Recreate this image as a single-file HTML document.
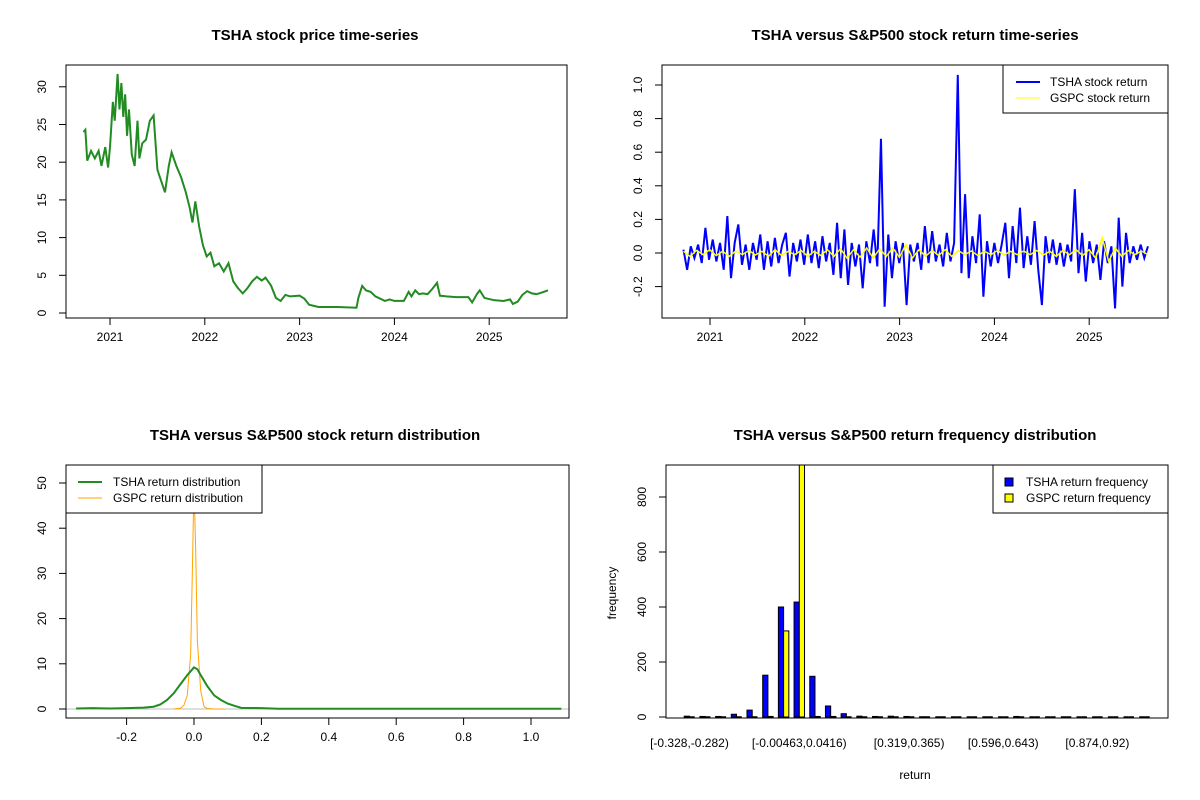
<!DOCTYPE html>
<html><head><meta charset="utf-8"><style>
body{margin:0;background:#fff}
svg{display:block;font-family:"Liberation Sans",Arial,sans-serif}
text{fill:#000}
.t{font-size:15px;font-weight:bold}
.k{font-size:12px}
</style></head><body>
<svg id="s" width="1200" height="800" viewBox="0 0 1200 800">
<rect width="1200" height="800" fill="#fff"/>
</svg>
<script>
// ---- data ----
const yearTicks = [2021, 2022, 2023, 2024, 2025];
const priceStart = 2020.72, priceEnd = 2025.62;
const priceYears = [2020.72,2020.74,2020.76,2020.80,2020.84,2020.88,2020.91,2020.95,2020.98,2021.0,2021.03,2021.05,2021.08,2021.10,2021.12,2021.14,2021.16,2021.18,2021.2,2021.23,2021.26,2021.29,2021.31,2021.34,2021.38,2021.42,2021.46,2021.5,2021.54,2021.58,2021.62,2021.65,2021.7,2021.75,2021.8,2021.84,2021.87,2021.9,2021.94,2021.98,2022.02,2022.06,2022.1,2022.15,2022.2,2022.25,2022.3,2022.35,2022.4,2022.45,2022.5,2022.55,2022.6,2022.64,2022.7,2022.75,2022.8,2022.85,2022.9,2023.0,2023.05,2023.1,2023.2,2023.4,2023.6,2023.62,2023.66,2023.7,2023.75,2023.8,2023.85,2023.9,2023.95,2024.0,2024.1,2024.15,2024.18,2024.22,2024.26,2024.3,2024.35,2024.4,2024.45,2024.48,2024.55,2024.65,2024.78,2024.82,2024.87,2024.9,2024.95,2025.05,2025.15,2025.22,2025.25,2025.3,2025.35,2025.4,2025.45,2025.5,2025.55,2025.62];
const tshaPrice = [24,24.3,20.2,21.5,20.5,21.5,19.5,22,19.3,22,28,25.5,31.7,27,30.5,26,29,23.5,27,21,19.5,25.5,20.5,22.5,23,25.5,26.2,19,17.5,16,19.5,21.3,19.5,18,16,14,12,14.8,11.5,9,7.5,8,6.2,6.6,5.5,6.6,4.2,3.3,2.6,3.3,4.2,4.8,4.3,4.7,3.6,2,1.6,2.4,2.2,2.3,1.9,1.1,0.8,0.8,0.7,2,3.6,3,2.8,2.2,1.9,1.6,1.8,1.6,1.6,2.8,2.2,3,2.5,2.6,2.5,3.2,4,2.3,2.2,2.1,2.1,1.4,2.5,3,2,1.7,1.6,1.8,1.2,1.5,2.4,2.9,2.6,2.5,2.7,3];
const priceTicks = [0,5,10,15,20,25,30];
const tshaRet = [0.02,-0.1,0.04,-0.03,0.05,-0.06,0.15,-0.04,0.08,-0.05,0.06,-0.1,0.22,-0.15,0.06,0.17,-0.07,0.05,-0.1,0.06,-0.04,0.11,-0.1,0.07,-0.08,0.09,-0.06,0.05,0.12,-0.14,0.06,-0.05,0.08,-0.07,0.11,-0.06,0.07,-0.09,0.1,-0.05,0.06,-0.13,0.18,-0.15,0.14,-0.19,0.06,-0.08,0.05,-0.21,0.07,-0.06,0.14,-0.08,0.68,-0.32,0.11,-0.15,0.07,-0.06,0.06,-0.31,0.05,-0.05,0.06,-0.1,0.16,-0.06,0.13,-0.05,0.05,-0.08,0.12,-0.05,0.06,1.06,-0.12,0.35,-0.15,0.1,-0.06,0.23,-0.26,0.07,-0.08,0.06,-0.06,0.05,0.18,-0.15,0.16,-0.06,0.27,-0.09,0.1,-0.07,0.19,-0.1,-0.31,0.1,-0.06,0.08,-0.07,0.06,-0.08,0.05,-0.05,0.38,-0.12,0.12,-0.17,0.07,-0.06,0.05,-0.16,0.07,-0.06,0.04,-0.33,0.21,-0.2,0.12,-0.06,0.04,-0.04,0.05,-0.03,0.04];
const gspcRet = [0.01,-0.02,0.015,-0.01,0.02,-0.015,0.01,-0.02,0.012,-0.01,0.015,-0.012,0.01,-0.02,0.02,-0.015,0.01,-0.01,0.015,-0.02,0.01,-0.015,0.02,-0.02,0.025,-0.03,0.02,-0.025,0.03,-0.03,0.025,-0.02,0.03,-0.025,0.05,-0.03,0.02,-0.02,0.015,-0.015,0.02,-0.02,0.015,-0.01,0.012,-0.015,0.01,-0.01,0.015,-0.012,0.01,-0.01,0.012,-0.01,0.015,-0.012,0.01,-0.02,0.015,-0.01,0.02,-0.015,0.02,-0.03,0.09,-0.05,0.03,-0.02,0.015,-0.01,0.012,-0.01];
const retTicks = [-0.2,0,0.2,0.4,0.6,0.8,1.0];
const retTickLabels = ["-0.2","0.0","0.2","0.4","0.6","0.8","1.0"];
const densTshaX = [-0.35,-0.3,-0.25,-0.2,-0.15,-0.12,-0.1,-0.08,-0.06,-0.04,-0.02,0,0.01,0.02,0.04,0.06,0.08,0.1,0.12,0.14,0.2,0.25,0.3,0.5,0.8,1.09];
const densTshaY = [0.1,0.2,0.1,0.2,0.3,0.5,1,2,3.5,5.5,7.5,9.2,8.8,7.5,5,3,2,1.2,0.7,0.25,0.2,0.05,0.05,0.05,0.05,0.05];
const densGspcX = [-0.06,-0.04,-0.03,-0.02,-0.01,-0.005,0,0.005,0.01,0.02,0.03,0.04,0.06,0.09];
const densGspcY = [0,0.2,0.8,3,12,30,50,35,15,4,0.5,0.1,0,0];
const densXTicks = [-0.2,0,0.2,0.4,0.6,0.8,1.0];
const densXLabels = ["-0.2","0.0","0.2","0.4","0.6","0.8","1.0"];
const densYTicks = [0,10,20,30,40,50];
const histTsha = [3,2,2,10,25,152,400,418,148,40,12,3,2,3,2,1,0,0,0,0,0,2,0,0,0,0,0,0,0,0];
const histGspc = [0,0,0,0,0,2,313,1100,2,2,0,0,0,0,0,0,0,0,0,0,0,0,0,0,0,0,0,0,0,0];
const histLabelIdx = [0,7,14,20,26];
const histLabels = ["[-0.328,-0.282)","[-0.00463,0.0416)","[0.319,0.365)","[0.596,0.643)","[0.874,0.92)"];
const histYTicks = [0,200,400,600,800];

// ---- helpers ----
const NS="http://www.w3.org/2000/svg", svg=document.getElementById('s');
function el(tag,at,parent){const e=document.createElementNS(NS,tag);for(const k in at)e.setAttribute(k,at[k]);(parent||svg).appendChild(e);return e;}
function txt(x,y,s,cls,anchor,rot,parent){const e=el('text',{x:x,y:y,class:cls,'text-anchor':anchor||'middle'},parent);if(rot)e.setAttribute('transform','rotate(-90 '+x+' '+y+')');e.textContent=s;return e;}
function grp(name){const g=el('g',{});return g;}
function box(g,x0,y0,x1,y1){const r=el('rect',{x:x0,y:y0,width:x1-x0,height:y1-y0,fill:'none',stroke:'#000','stroke-width':1},g);}
function xAxis(g,vals,labels,sx,y){const a=grp('x-axis');g.appendChild(a);el('line',{x1:sx(vals[0]),x2:sx(vals[vals.length-1]),y1:y,y2:y,stroke:'#000'},a);vals.forEach((v,i)=>{el('line',{x1:sx(v),x2:sx(v),y1:y,y2:y+7,stroke:'#000'},a);txt(sx(v),y+23,labels[i],'k','middle',false,a);});}
function yAxis(g,vals,labels,sy,x){const a=grp('y-axis');g.appendChild(a);el('line',{x1:x,x2:x,y1:sy(vals[0]),y2:sy(vals[vals.length-1]),stroke:'#000'},a);vals.forEach((v,i)=>{el('line',{x1:x,x2:x-7,y1:sy(v),y2:sy(v),stroke:'#000'},a);txt(x-20,sy(v),labels[i],'k','middle',true,a);});}
function poly(g,xs,ys,col,w,name){const p=el('polyline',{points:xs.map((x,i)=>x+','+ys[i]).join(' '),fill:'none',stroke:col,'stroke-width':w,'stroke-linejoin':'miter'},g);return p;}

// ---- Panel 1: price ----
{
const g=grp('price-chart');
const sx=y=>110+(y-2021)*94.8, sy=v=>313-v*7.54;
txt(315,40,'TSHA stock price time-series','t','middle',false,g);
box(g,66,65,567,318);
poly(g,priceYears.map(sx),tshaPrice.map(sy),'#228B22',2,'price-line');
xAxis(g,yearTicks,yearTicks.map(String),sx,318);
yAxis(g,priceTicks,priceTicks.map(String),sy,66);
}
// ---- Panel 2: returns ----
{
const g=grp('return-chart');
const sx=y=>710+(y-2021)*94.8, sy=v=>253-v*168;
txt(915,40,'TSHA versus S&P500 stock return time-series','t','middle',false,g);
box(g,662,65,1168,318);
const n=tshaRet.length,m=gspcRet.length;
poly(g,tshaRet.map((v,i)=>sx(priceStart+i*(priceEnd-priceStart)/(n-1))),tshaRet.map(sy),'#0000ff',2,'tsha-return-line');
poly(g,gspcRet.map((v,i)=>sx(priceStart+i*(priceEnd-priceStart)/(m-1))),gspcRet.map(sy),'#ffff00',1.5,'gspc-return-line');
xAxis(g,yearTicks,yearTicks.map(String),sx,318);
yAxis(g,retTicks,retTickLabels,sy,662);
const L=grp('legend');g.appendChild(L);
el('rect',{x:1003,y:65,width:165,height:48,fill:'#fff',stroke:'#000'},L);
el('line',{x1:1016,x2:1040,y1:82,y2:82,stroke:'#0000ff','stroke-width':2},L);
el('line',{x1:1016,x2:1040,y1:98,y2:98,stroke:'#ffff00','stroke-width':1},L);
txt(1050,86,'TSHA stock return','k','start',false,L);
txt(1050,102,'GSPC stock return','k','start',false,L);
}
// ---- Panel 3: density ----
{
const g=grp('density-chart');
const sx=v=>194+v*337, sy=v=>709-v*4.52;
txt(315,440,'TSHA versus S&P500 stock return distribution','t','middle',false,g);
el('line',{x1:66,x2:569,y1:709,y2:709,stroke:'#bebebe'},g);
poly(g,densGspcX.map(sx),densGspcY.map(sy),'#FFA500',1,'gspc-density-line');
poly(g,densTshaX.map(sx),densTshaY.map(sy),'#228B22',2,'tsha-density-line');
box(g,66,465,569,718);
xAxis(g,densXTicks,densXLabels,sx,718);
yAxis(g,densYTicks,densYTicks.map(String),sy,66);
const L=grp('legend');g.appendChild(L);
el('rect',{x:66,y:465,width:196,height:48,fill:'#fff',stroke:'#000'},L);
el('line',{x1:78,x2:102,y1:482,y2:482,stroke:'#228B22','stroke-width':2},L);
el('line',{x1:78,x2:102,y1:498,y2:498,stroke:'#FFA500','stroke-width':1},L);
txt(113,486,'TSHA return distribution','k','start',false,L);
txt(113,502,'GSPC return distribution','k','start',false,L);
}
// ---- Panel 4: histogram ----
{
const g=grp('frequency-chart');
const u=5.23,x0=679,sy=v=>717-v*0.275;
const cx=i=>x0+(i*3+2)*u;
txt(915,440,'TSHA versus S&P500 return frequency distribution','t','middle',false,g);
const bars=grp('bars');g.appendChild(bars);
function bar(i,v,off,col,name){const x=x0+(i*3+off)*u;const top=Math.max(sy(v),465);
 if(v>0){const r=el('rect',{x:x,y:top,width:u,height:717-top,fill:col,stroke:'#000','stroke-width':1},bars);}
 else{const l=el('line',{x1:x,x2:x+u,y1:717,y2:717,stroke:'#000','stroke-width':1.5},bars);}}
histTsha.forEach((v,i)=>bar(i,v,1,'#0000ff','tsha-bar'));
histGspc.forEach((v,i)=>bar(i,v,2,'#ffff00','gspc-bar'));
el('rect',{x:666,y:465,width:502,height:253,fill:'none',stroke:'#000'},g);
histLabelIdx.forEach((k,j)=>txt(cx(k),747,histLabels[j],'k','middle',false,g));
yAxis(g,histYTicks,histYTicks.map(String),sy,666);
txt(915,779,'return','k','middle',false,g);
txt(616,593,'frequency','k','middle',true,g);
const L=grp('legend');g.appendChild(L);
el('rect',{x:993,y:465,width:175,height:48,fill:'#fff',stroke:'#000'},L);
el('rect',{x:1005,y:478,width:8,height:8,fill:'#0000ff',stroke:'#000'},L);
el('rect',{x:1005,y:494,width:8,height:8,fill:'#ffff00',stroke:'#000'},L);
txt(1026,486,'TSHA return frequency','k','start',false,L);
txt(1026,502,'GSPC return frequency','k','start',false,L);
}
</script>
</body></html>
